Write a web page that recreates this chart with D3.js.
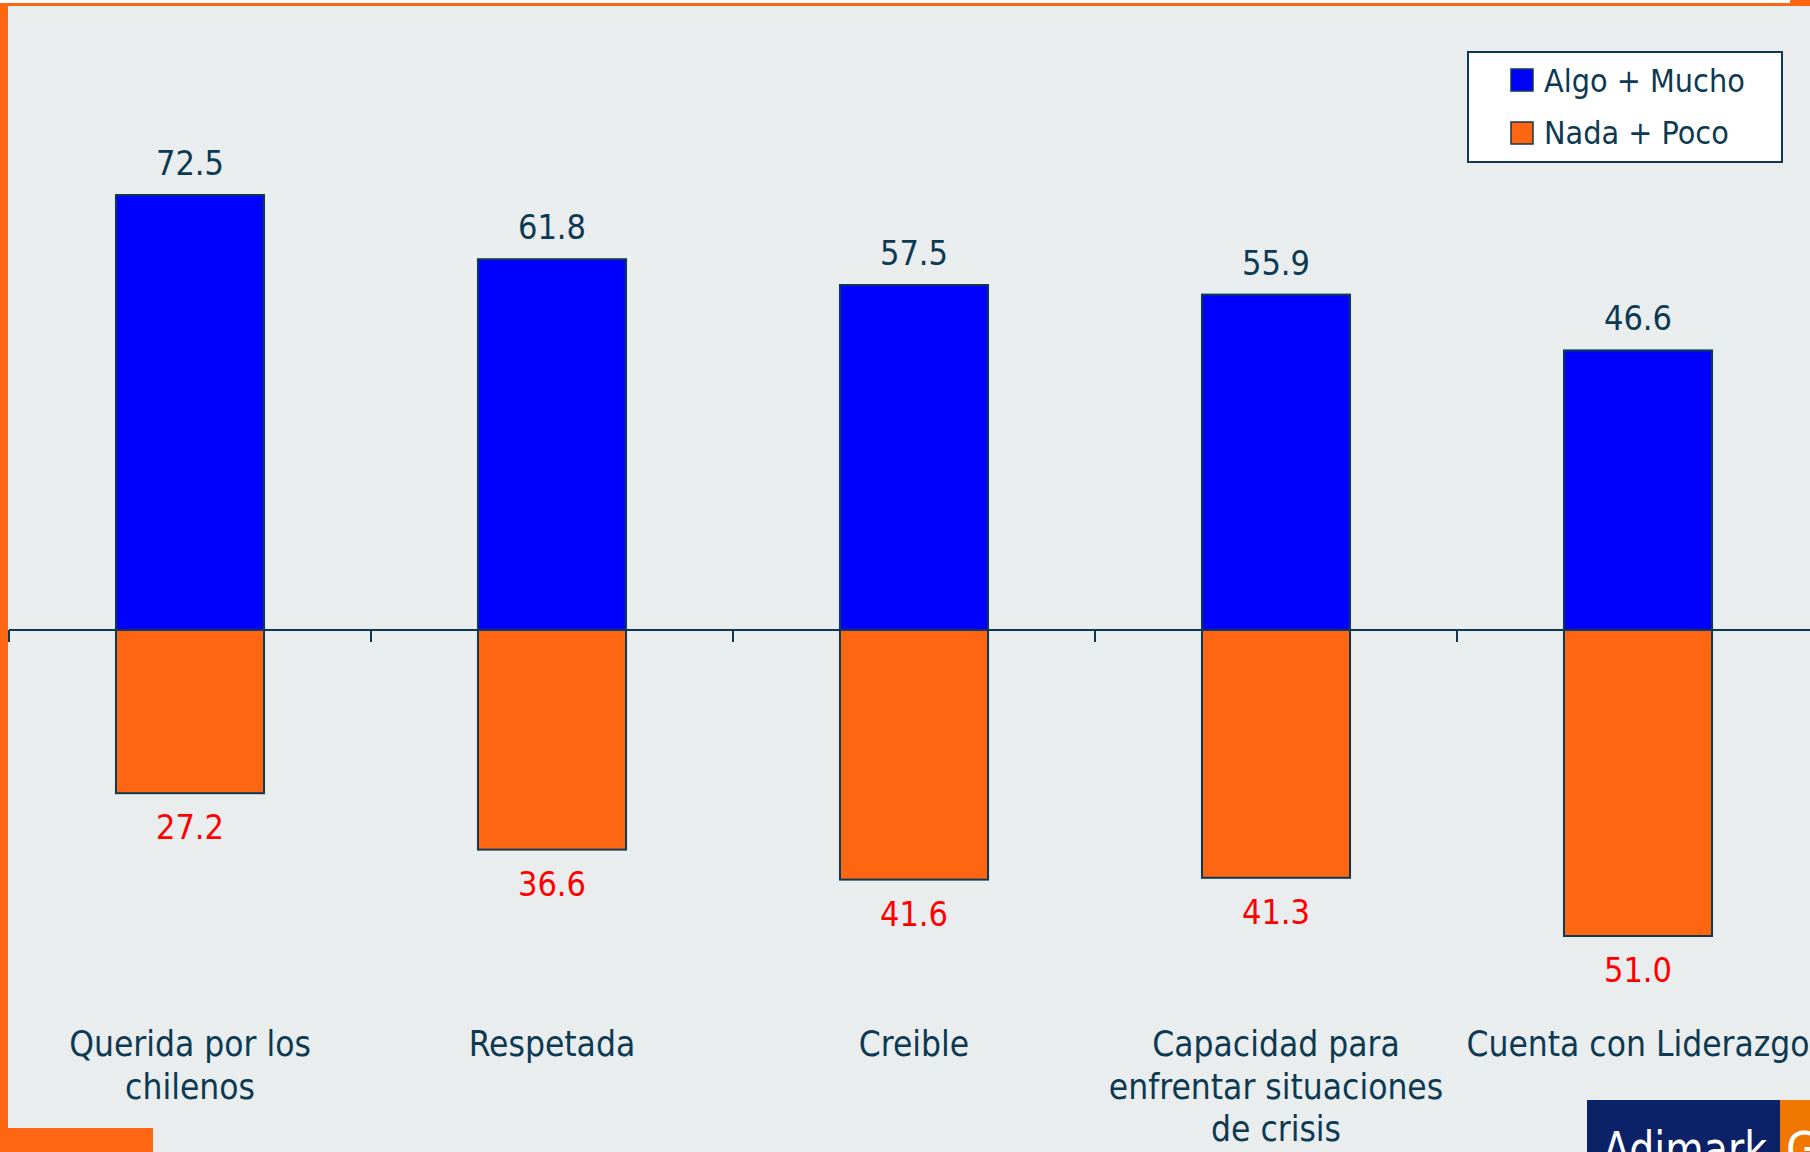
<!DOCTYPE html>
<html>
<head>
<meta charset="utf-8">
<script src="https://cdn.jsdelivr.net/npm/d3@7"></script>
<style>
  body { margin: 0; background: #fff; }
  svg { display: block; }
  text { font-family: "DejaVu Sans Condensed", "DejaVu Sans", sans-serif; font-stretch: condensed; }
</style>
</head>
<body>
<div id="container"></div>
<script>
// datos
var categorias = [
  ["Querida por los", "chilenos"],
  ["Respetada"],
  ["Creible"],
  ["Capacidad para", "enfrentar situaciones", "de crisis"],
  ["Cuenta con Liderazgo"]
]
var algoMucho = [72.5, 61.8, 57.5, 55.9, 46.6]
var nadaPoco = [27.2, 36.6, 41.6, 41.3, 51.0]
var series = ["Algo + Mucho", "Nada + Poco"]

var ancho = 1810
var alto = 1152
var navy = "#0d3a52"
var colores = ["#0000ff", "#ff6611"]

var svg = d3.select("#container").append("svg")
  .attr("width", ancho)
  .attr("height", alto)

// fondo y marco naranja
svg.append("rect").attr("width", ancho).attr("height", alto).attr("fill", "#fff")
svg.append("rect").attr("x", 0).attr("y", 3).attr("width", ancho).attr("height", alto).attr("fill", "#e9edee")
svg.append("rect").attr("x", 0).attr("y", 3).attr("width", 1790).attr("height", 3).attr("fill", "#ff6611")
svg.append("rect").attr("x", 1790).attr("y", 0).attr("width", 20).attr("height", 6).attr("fill", "#ff6611")
svg.append("rect").attr("x", 0).attr("y", 3).attr("width", 8).attr("height", alto).attr("fill", "#ff6611")
svg.append("rect").attr("x", 0).attr("y", 1128).attr("width", 153).attr("height", 24).attr("fill", "#ff6611")

// escalas
var idx = d3.range(categorias.length)
var x = d3.scaleBand()
  .domain(idx)
  .range([9, 9 + 362 * categorias.length])
  .paddingInner(0.591)
  .paddingOuter(0.2955)
var y = d3.scaleLinear().domain([0, 100]).range([630, 30])

// eje
var eje = svg.append("g").attr("transform", "translate(0," + y(0) + ")")
eje.append("line").attr("x1", 9).attr("x2", ancho).attr("stroke", navy).attr("stroke-width", 2)
var paso = x.step()
eje.selectAll(".tick").data(d3.range(categorias.length + 1)).enter().append("line")
  .attr("x1", function(d){ return 9 + d * paso })
  .attr("x2", function(d){ return 9 + d * paso })
  .attr("y1", 0).attr("y2", 12)
  .attr("stroke", navy).attr("stroke-width", 2)

// barras positivas
svg.selectAll(".pos").data(algoMucho).enter().append("rect")
  .attr("x", function(d, i){ return x(i) })
  .attr("y", function(d){ return y(d) })
  .attr("width", x.bandwidth())
  .attr("height", function(d){ return y(0) - y(d) })
  .attr("fill", colores[0]).attr("stroke", navy).attr("stroke-width", 2)

// barras negativas
svg.selectAll(".neg").data(nadaPoco).enter().append("rect")
  .attr("x", function(d, i){ return x(i) })
  .attr("y", y(0))
  .attr("width", x.bandwidth())
  .attr("height", function(d){ return y(-d) - y(0) })
  .attr("fill", colores[1]).attr("stroke", navy).attr("stroke-width", 2)

// etiquetas de valores
svg.selectAll(".lpos").data(algoMucho).enter().append("text")
  .attr("x", function(d, i){ return x(i) + x.bandwidth() / 2 })
  .attr("y", function(d){ return y(d) - 20 })
  .attr("text-anchor", "middle").attr("font-size", 34).attr("fill", navy)
  .text(function(d){ return d.toFixed(1) })

svg.selectAll(".lneg").data(nadaPoco).enter().append("text")
  .attr("x", function(d, i){ return x(i) + x.bandwidth() / 2 })
  .attr("y", function(d){ return y(-d) + 46 })
  .attr("text-anchor", "middle").attr("font-size", 34).attr("fill", "#ff0000")
  .text(function(d){ return d.toFixed(1) })

// categorias
var cat = svg.selectAll(".cat").data(categorias).enter().append("text")
  .attr("text-anchor", "middle").attr("font-size", 35).attr("fill", navy)
  .attr("transform", function(d, i){ return "translate(" + (x(i) + x.bandwidth() / 2) + ",1056)" })
cat.selectAll("tspan").data(function(d){ return d }).enter().append("tspan")
  .attr("x", 0).attr("y", function(d, j){ return j * 42.5 })
  .text(function(d){ return d })

// leyenda
var ley = svg.append("g").attr("transform", "translate(1468,52)")
ley.append("rect").attr("width", 314).attr("height", 110)
  .attr("fill", "#fff").attr("stroke", navy).attr("stroke-width", 2)
series.forEach(function(s, i){
  ley.append("rect").attr("x", 43).attr("y", 17 + i * 53).attr("width", 22).attr("height", 22)
    .attr("fill", colores[i]).attr("stroke", navy).attr("stroke-width", 1.5)
  ley.append("text").attr("x", 76).attr("y", 40 + i * 52)
    .attr("font-size", 32).attr("fill", navy).text(s)
})

// logo
svg.append("rect").attr("x", 1587).attr("y", 1100).attr("width", 193).attr("height", 52).attr("fill", "#0b2168")
svg.append("rect").attr("x", 1780).attr("y", 1100).attr("width", 30).attr("height", 52).attr("fill", "#f07800")
svg.append("text").attr("x", 1603).attr("y", 1166).attr("font-size", 48).attr("fill", "#fff")
  .attr("textLength", 164).attr("lengthAdjust", "spacingAndGlyphs").text("Adimark")
svg.append("text").attr("x", 1786).attr("y", 1166).attr("font-size", 48).attr("fill", "#fff")
  .text("G")
</script>
</body>
</html>
